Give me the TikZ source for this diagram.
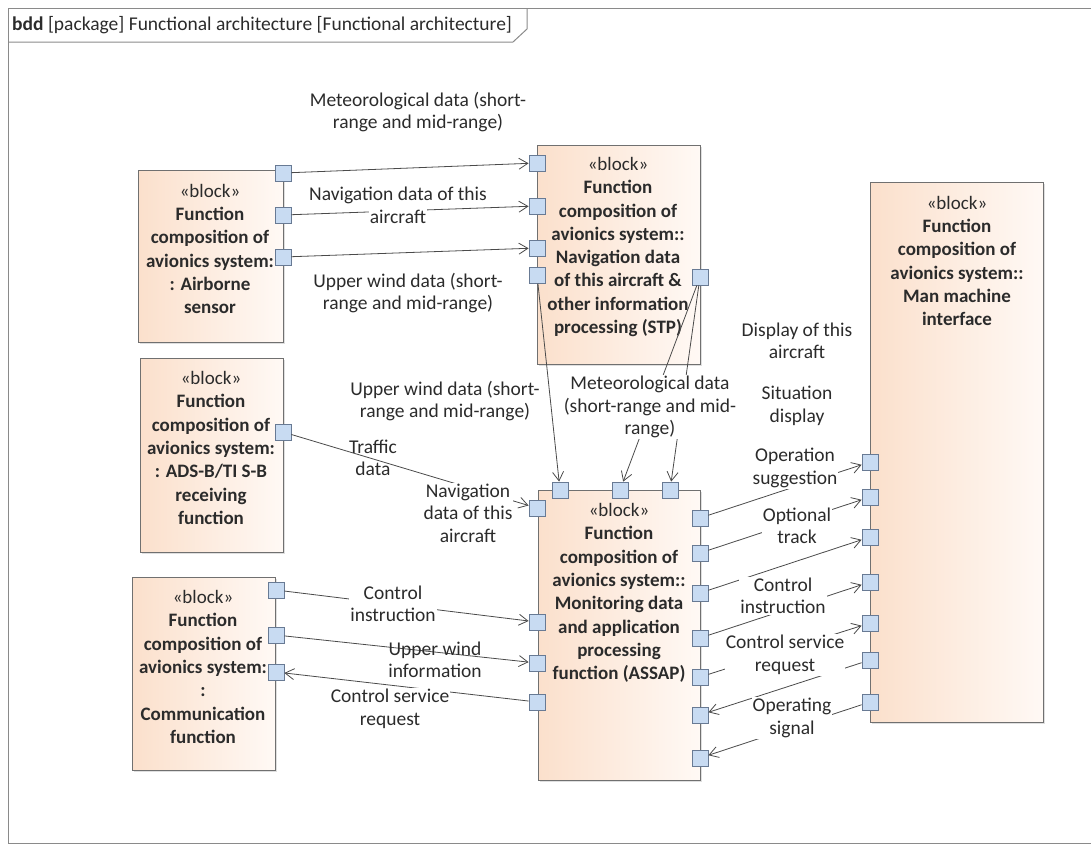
\documentclass[tikz,border=0pt]{standalone}
\usepackage{fontspec}
\setmainfont{Carlito}
\usetikzlibrary{arrows.meta,shadows}

\definecolor{framegray}{HTML}{8A8A8A}
\definecolor{blockline}{HTML}{707070}
\definecolor{peach}{HTML}{FBE0CC}
\definecolor{peachlight}{HTML}{FFF9F5}
\definecolor{portfill}{HTML}{C8DBF2}
\definecolor{portline}{HTML}{687A94}
\definecolor{wire}{HTML}{4A4A4A}
\definecolor{ink}{HTML}{2B2B2B}

\tikzset{
  blockbox/.style={rectangle, draw=blockline, line width=0.9pt, inner sep=0pt,
    left color=peach, right color=peachlight,
    drop shadow={opacity=0.25, shadow xshift=2pt, shadow yshift=-2pt}},
  blocktext/.style={align=center, text=ink, inner sep=0pt,
    font=\fontsize{19}{23.3}\selectfont\bfseries},
  lbl/.style={align=center, text=ink, inner sep=1pt,
    font=\fontsize{19.5}{22.5}\selectfont},
  lblw/.style={lbl, fill=white},
  port/.style={rectangle, draw=portline, fill=portfill, line width=0.8pt,
    minimum size=16pt, inner sep=0pt},
  flow/.style={draw=wire, line width=0.8pt,
    -{Straight Barb[length=9pt,width=11pt,line width=0.8pt]}},
}
\newcommand{\stereo}{{\mdseries «block»}}
\newcommand{\onwhite}[1]{{\setlength{\fboxsep}{1pt}\colorbox{white}{#1}}}

\begin{document}
\begin{tikzpicture}[x=1pt,y=-1pt]
\useasboundingbox (0,0) rectangle (1091,846);

% diagram frame and its name tab
\draw[framegray, line width=1pt] (1091,8) -- (8,8) -- (8,843) -- (1091,843);
\draw[framegray, line width=1pt] (8,42) -- (513,42) -- (527,29) -- (527,8);
\node[anchor=west, text=ink, inner sep=0pt, font=\fontsize{19.5}{22}\selectfont]
  (title) at (12,25) {\textbf{bdd} [package] Functional architecture [Functional architecture]};

% blocks
\node[blockbox, anchor=north west, minimum width=145pt, minimum height=172pt] (air) at (138,170) {};
\node[blockbox, anchor=north west, minimum width=163pt, minimum height=219pt] (stp) at (537,145) {};
\node[blockbox, anchor=north west, minimum width=143pt, minimum height=194pt] (ads) at (140,358) {};
\node[blockbox, anchor=north west, minimum width=143pt, minimum height=193pt] (com) at (132,577) {};
\node[blockbox, anchor=north west, minimum width=162pt, minimum height=290pt] (assap) at (538,490) {};
\node[blockbox, anchor=north west, minimum width=173pt, minimum height=540pt] (mmi) at (870,182) {};

% block names
\node[blocktext] (airT) at (210,249) {\stereo\\Function\\composition of\\avionics system:\\: Airborne\\sensor};
\node[blocktext] (stpT) at (618,247) {\stereo\\Function\\composition of\\avionics system::\\Navigation data\\of this aircraft \&\\other information\\processing (STP)};
\node[blocktext] (adsT) at (211,448) {\stereo\\Function\\composition of\\avionics system:\\: ADS-B/TI S-B\\receiving\\function};
\node[blocktext] (comT) at (203,667) {\stereo\\Function\\composition of\\avionics system:\\:\\Communication\\function};
\node[blocktext] (assapT) at (619,593) {\stereo\\Function\\composition of\\avionics system::\\Monitoring data\\and application\\processing\\function (ASSAP)};
\node[blocktext] (mmiT) at (957,261) {\stereo\\Function\\composition of\\avionics system::\\Man machine\\interface};

% ports
\node[port] (aP1) at (283,173) {};
\node[port] (aP2) at (283,215) {};
\node[port] (aP3) at (283,257) {};
\node[port] (sP1) at (537,163) {};
\node[port] (sP2) at (537,206) {};
\node[port] (sP3) at (537,248) {};
\node[port] (sP4) at (537,275) {};
\node[port] (sP5) at (700,277) {};
\node[port] (dP1) at (283,432) {};
\node[port] (cP1) at (276,590) {};
\node[port] (cP2) at (276,635) {};
\node[port] (cP3) at (276,672) {};
\node[port] (mT1) at (560,490) {};
\node[port] (mT2) at (620,490) {};
\node[port] (mT3) at (670,490) {};
\node[port] (mL1) at (537,508) {};
\node[port] (mL2) at (537,622) {};
\node[port] (mL3) at (537,663) {};
\node[port] (mL4) at (537,702) {};
\node[port] (mR1) at (700,518) {};
\node[port] (mR2) at (700,553) {};
\node[port] (mR3) at (700,593) {};
\node[port] (mR4) at (700,638) {};
\node[port] (mR5) at (700,677) {};
\node[port] (mR6) at (700,715) {};
\node[port] (mR7) at (700,758) {};
\node[port] (hP1) at (870,462) {};
\node[port] (hP2) at (870,497) {};
\node[port] (hP3) at (870,537) {};
\node[port] (hP4) at (870,582) {};
\node[port] (hP5) at (870,623) {};
\node[port] (hP6) at (870,660) {};
\node[port] (hP7) at (870,702) {};

% item flows
\draw[flow] (aP1) -- (sP1);
\draw[flow] (aP2) -- (sP2);
\draw[flow] (aP3) -- (sP3);
\draw[flow] (sP4) -- (mT1);
\draw[flow] (sP5) -- (mT2);
\draw[flow] (sP5) -- (mT3);
\draw[flow] (dP1) -- (mL1);
\draw[flow] (cP1) -- (mL2);
\draw[flow] (cP2) -- (mL3);
\draw[flow] (mL4) -- (cP3);
\draw[flow] (mR1) -- (hP1);
\draw[flow] (mR2) -- (hP2);
\draw[flow] (mR3) -- (hP3);
\draw[flow] (mR4) -- (hP4);
\draw[flow] (mR5) -- (hP5);
\draw[flow] (hP6) -- (mR6);
\draw[flow] (hP7) -- (mR7);

% flow labels
\node[lbl]  (l1)  at (418,112) {Meteorological data (short-\\range and mid-range)};
\node[lbl]  (l2)  at (398,206) {Navigation data of this\\\onwhite{aircraft}};
\node[lbl]  (l3)  at (408,293) {Upper wind data (short-\\range and mid-range)};
\node[lbl]  (l4)  at (445,401) {Upper wind data (short-\\range and mid-range)};
\node[lblw] (l5)  at (650,407) {Meteorological data\\(short-range and mid-\\range)};
\node[lbl]  (l6)  at (797,341) {Display of this\\aircraft};
\node[lbl]  (l7)  at (797,406) {Situation\\display};
\node[lbl]  (l8)  at (373,458) {Traffic\\data};
\node[lblw] (l9)  at (468,513) {Navigation\\data of this\\aircraft};
\node[lblw] (l10) at (795,468) {Operation\\suggestion};
\node[lblw] (l11) at (797,526) {Optional\\track};
\node[lblw] (l12) at (783,596) {Control\\instruction};
\node[lblw] (l13) at (785,655) {Control service\\request};
\node[lblw] (l14) at (792,718) {Operating\\signal};
\node[lblw] (l15) at (393,604) {Control\\instruction};
\node[lbl]  (l16) at (435,660) {Upper wind\\information};
\node[lblw] (l17) at (390,709) {Control service\\request};
\end{tikzpicture}
\end{document}
